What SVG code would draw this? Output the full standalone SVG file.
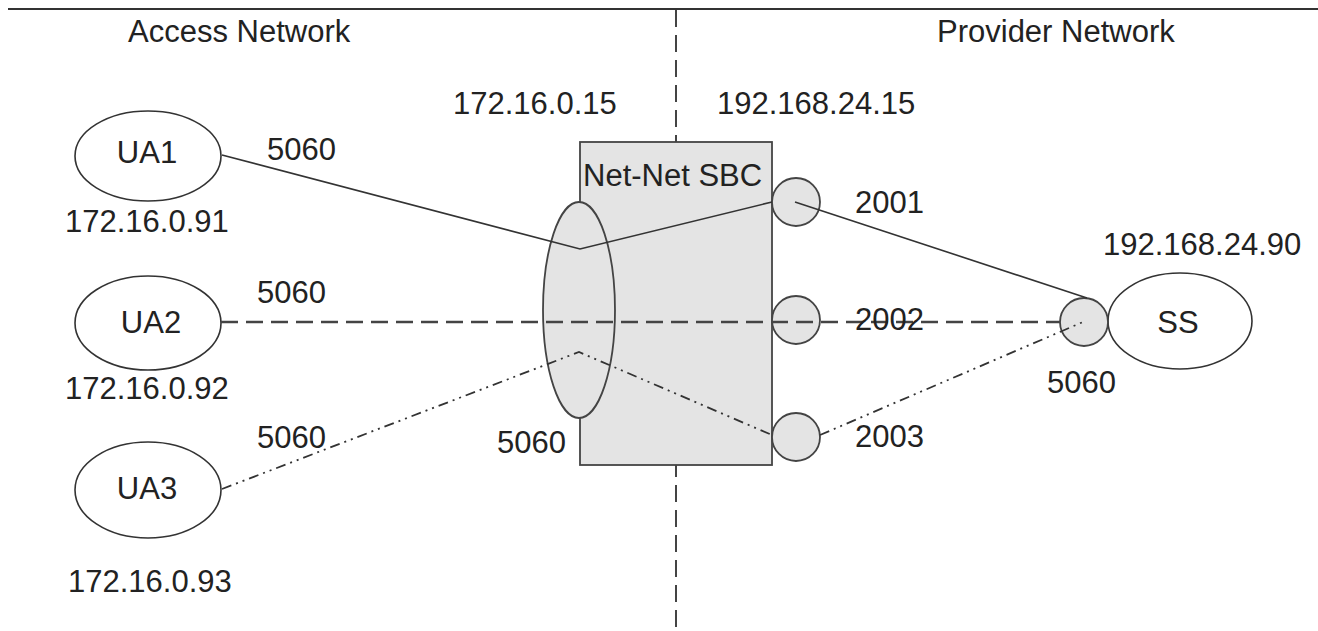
<svg xmlns="http://www.w3.org/2000/svg" width="1318" height="631" viewBox="0 0 1318 631">
<style>
text{font-family:"Liberation Sans",Arial,sans-serif;font-size:31px;fill:#222}
.node{fill:#fff;stroke:#333;stroke-width:1.6}
.gray{fill:#e4e4e4;stroke:#444;stroke-width:1.8}
.c{fill:none;stroke:#333}
.solid{stroke-width:1.6}
.dash{stroke-width:2.4;stroke-dasharray:17 8;stroke:#444}
.dd{stroke-width:1.8;stroke-dasharray:10 5 2 5 2 5}
.mid{text-anchor:middle}
</style>
<g id="frame">
<line x1="8" y1="9" x2="1318" y2="9" stroke="#333" stroke-width="2"/>
<line x1="676" y1="10" x2="676" y2="631" stroke="#444" stroke-width="2" stroke-dasharray="17 8"/>
</g>
<g id="titles">
<text x="128" y="42">Access Network</text>
<text x="937" y="42">Provider Network</text>
</g>
<g id="SBC">
<rect x="580" y="142" width="192" height="323" class="gray"/>
<text x="583" y="186">Net-Net SBC</text>
<ellipse cx="579" cy="310" rx="36" ry="108" class="gray"/>
</g>
<g id="port2001"><circle cx="796" cy="202" r="24" class="gray"/></g>
<g id="port2002"><circle cx="796" cy="320" r="24" class="gray"/></g>
<g id="port2003"><circle cx="796" cy="437" r="24" class="gray"/></g>
<g id="UA1">
<ellipse cx="148" cy="156" rx="73" ry="45" class="node"/>
<text x="147" y="163" class="mid">UA1</text>
</g>
<g id="UA2">
<ellipse cx="148" cy="323" rx="73" ry="47" class="node"/>
<text x="151" y="333" class="mid">UA2</text>
</g>
<g id="UA3">
<ellipse cx="148" cy="490" rx="73" ry="48" class="node"/>
<text x="147" y="499" class="mid">UA3</text>
</g>
<g id="SS">
<ellipse cx="1180" cy="321" rx="72" ry="48" class="node"/>
<text x="1178" y="333" class="mid">SS</text>
</g>
<g id="SSport"><circle cx="1084" cy="322" r="24" class="gray"/></g>
<g id="connectors">
<polyline points="222,155 580,249 772,202" class="c solid"/>
<line x1="795" y1="202" x2="1087" y2="298" class="c solid"/>
<line x1="221" y1="322" x2="1060" y2="322" class="c dash"/>
<polyline points="222,489 579,352 772,435" class="c dd"/>
<line x1="820" y1="435" x2="1083" y2="322" class="c dd"/>
</g>
<g id="labels">
<text x="453" y="114">172.16.0.15</text>
<text x="717" y="114">192.168.24.15</text>
<text x="267" y="160">5060</text>
<text x="65" y="232">172.16.0.91</text>
<text x="855" y="213">2001</text>
<text x="1103" y="255">192.168.24.90</text>
<text x="257" y="303">5060</text>
<text x="855" y="330">2002</text>
<text x="65" y="399">172.16.0.92</text>
<text x="1047" y="393">5060</text>
<text x="257" y="448">5060</text>
<text x="497" y="453">5060</text>
<text x="855" y="447">2003</text>
<text x="68" y="592">172.16.0.93</text>
</g>
</svg>
